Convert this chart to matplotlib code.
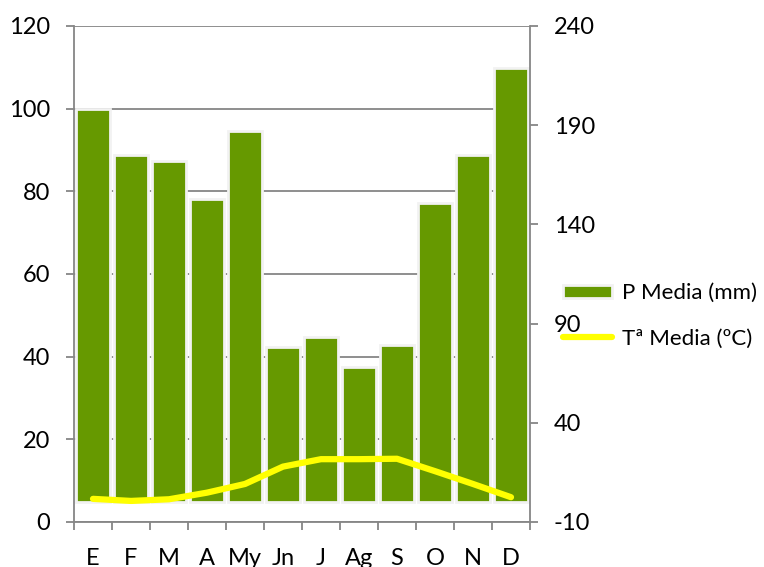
import matplotlib
matplotlib.use("Agg")
import matplotlib.pyplot as plt
import numpy as np

months = ["E", "F", "M", "A", "My", "Jn", "J", "Ag", "S", "O", "N", "D"]
precip = [198, 175, 172, 153, 187, 78, 83, 68, 79, 151, 175, 219]
temp = [5.6, 5.1, 5.5, 7.1, 9.2, 13.4, 15.2, 15.2, 15.3, 12.3, 9.2, 6.0]
left_ticks = [0, 20, 40, 60, 80, 100, 120]
right_ticks = [-10, 40, 90, 140, 190, 240]

plt.rcParams['font.family'] = ['Lato', 'DejaVu Sans']
plt.rcParams['axes.unicode_minus'] = False
FS = 17
LFS = 16
GREY = "#868686"

fig = plt.figure(figsize=(7.64, 5.67), dpi=100)
ax = fig.add_axes([74/764, 1-522/567, (530-74)/764, (522-26)/567])
x = np.arange(len(months))

# left axis: gridlines
ax.set_ylim(0, 120)
ax.set_xlim(-0.5, len(months)-0.5)
ax.set_yticks(left_ticks)
ax.yaxis.grid(True, color=GREY, linewidth=1.3)
ax.set_axisbelow(True)
for s in ["top", "right"]:
    ax.spines[s].set_visible(False)
for s in ["left", "bottom"]:
    ax.spines[s].set_color(GREY)
    ax.spines[s].set_linewidth(1.3)
ax.tick_params(axis="y", direction="out", length=6, width=1.3, color=GREY,
               labelsize=FS, pad=11)
ax.set_xticks(np.arange(-0.5, len(months), 1.0))
ax.set_xticklabels([])
ax.tick_params(axis="x", which="major", direction="out", length=6, width=1.3, color=GREY)
ax.set_xticks(x, minor=True)
ax.set_xticklabels(months, minor=True)
ax.tick_params(axis="x", which="minor", length=0, labelsize=FS, pad=19)

# right axis: bars
ax2 = ax.twinx()
ax2.set_ylim(-10, 240)
ax2.set_yticks(right_ticks)
bars = ax2.bar(x, precip, width=0.9, bottom=0, color="#669900",
               edgecolor="#f2f2f2", linewidth=2, label="P Media (mm)")

# top layer: temperature line on left scale
ax3 = ax2.twinx()
ax3.set_ylim(0, 120)
ax3.set_xlim(-0.5, len(months)-0.5)
line, = ax3.plot(x, temp, color="#ffff00", linewidth=4.5,
                 solid_capstyle="round", solid_joinstyle="round", label="Tª Media (ºC)")
ax3.set_axis_off()

ax2.yaxis.tick_right()
for s in ["top", "left", "bottom"]:
    ax2.spines[s].set_visible(False)
ax2.spines["right"].set_visible(True)
ax2.spines["right"].set_color(GREY)
ax2.spines["right"].set_linewidth(1.3)
ax2.tick_params(axis="y", direction="out", length=6, width=1.3, color=GREY,
                labelsize=FS, pad=11, right=True, labelright=True,
                left=False, labelleft=False)

fig.legend(handles=[bars, line], labels=["P Media (mm)", "Tª Media (ºC)"],
           loc="center left", bbox_to_anchor=(563/764, 1-316/567),
           frameon=False, fontsize=LFS, handlelength=2.2, handleheight=0.55,
           handletextpad=0.45, labelspacing=1.15, borderpad=0, borderaxespad=0)

fig.savefig("out.png", dpi=100)
